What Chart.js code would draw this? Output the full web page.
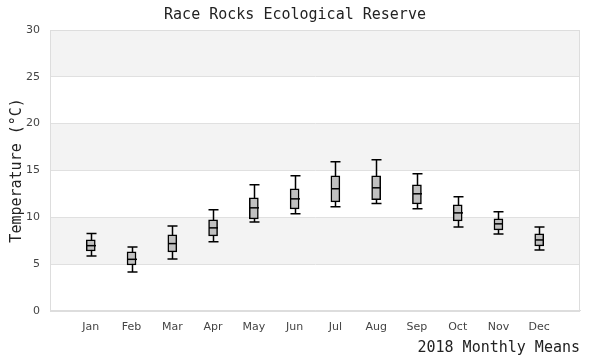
<!DOCTYPE html>
<html>
<head>
<meta charset="utf-8">
<script src="https://cdn.jsdelivr.net/npm/chart.js@4/dist/chart.umd.min.js"></script>
<style>
html,body{margin:0;padding:0;background:#fff;}
#wrap{width:600px;height:360px;}
</style>
</head>
<body>
<div id="wrap"><canvas id="c" width="600" height="360"></canvas></div>
<script>
const months = ["Jan","Feb","Mar","Apr","May","Jun","Jul","Aug","Sep","Oct","Nov","Dec"];
const whiskerLow  = [5.86, 4.14, 5.54, 7.39, 9.50, 10.36, 11.11, 11.46, 10.89, 8.96, 8.21, 6.50];
const q1          = [6.39, 4.89, 6.29, 8.00, 9.82, 10.89, 11.64, 11.86, 11.43, 9.61, 8.64, 6.93];
const medians     = [6.96, 5.50, 7.18, 8.86, 11.00, 11.96, 13.04, 13.14, 12.50, 10.46, 9.29, 7.57];
const q3          = [7.57, 6.29, 8.11, 9.71, 12.07, 13.04, 14.43, 14.43, 13.46, 11.32, 9.82, 8.21];
const whiskerHigh = [8.25, 6.82, 9.07, 10.79, 13.46, 14.43, 15.93, 16.14, 14.64, 12.18, 10.57, 8.96];
const yTicks = [0, 5, 10, 15, 20, 25, 30];

const monoFont = "'DejaVu Sans Mono', monospace";
const sansFont = "'DejaVu Sans', sans-serif";

const boxData = months.map((m, i) => ({ x: i + 1, y: [q1[i], q3[i]] }));

const bandsPlugin = {
  id: 'bands',
  beforeDraw(chart) {
    const { ctx, chartArea: a, scales: { y } } = chart;
    ctx.save();
    ctx.fillStyle = '#f3f3f3';
    for (let k = 0; k < yTicks.length - 1; k++) {
      if ((yTicks.length - 2 - k) % 2 === 0) {
        const top = y.getPixelForValue(yTicks[k + 1]);
        const bot = y.getPixelForValue(yTicks[k]);
        ctx.fillRect(a.left, top, a.right - a.left, bot - top);
      }
    }
    ctx.restore();
  },
  afterDraw(chart) {
    const { ctx, chartArea: a } = chart;
    ctx.save();
    ctx.strokeStyle = '#dddddd';
    ctx.lineWidth = 1;
    ctx.strokeRect(Math.round(a.left) + 0.5, Math.round(a.top) + 0.5, Math.round(a.right - a.left) - 1, Math.round(a.bottom - a.top));
    ctx.restore();
  }
};

const whiskerPlugin = {
  id: 'whiskers',
  beforeDatasetsDraw(chart) {
    const { ctx, scales: { x, y } } = chart;
    ctx.save();
    ctx.strokeStyle = '#000';
    ctx.lineWidth = 1.5;
    const half = 5;
    months.forEach((m, i) => {
      const px = Math.round(x.getPixelForValue(i + 1)) + 0.5;
      const lo = y.getPixelForValue(whiskerLow[i]);
      const hi = y.getPixelForValue(whiskerHigh[i]);
      ctx.beginPath();
      ctx.moveTo(px, lo); ctx.lineTo(px, hi);
      ctx.moveTo(px - half, lo); ctx.lineTo(px + half, lo);
      ctx.moveTo(px - half, hi); ctx.lineTo(px + half, hi);
      ctx.stroke();
    });
    ctx.restore();
  },
  afterDatasetsDraw(chart) {
    const { ctx, scales: { x, y } } = chart;
    ctx.save();
    ctx.strokeStyle = '#000';
    ctx.lineWidth = 1.5;
    months.forEach((m, i) => {
      const px = Math.round(x.getPixelForValue(i + 1)) + 0.5;
      const my = y.getPixelForValue(medians[i]);
      ctx.beginPath();
      ctx.moveTo(px - 4.5, my); ctx.lineTo(px + 4.5, my);
      ctx.stroke();
    });
    ctx.restore();
  }
};

new Chart(document.getElementById('c'), {
  type: 'bar',
  data: {
    datasets: [{
      label: 'Monthly means',
      data: boxData,
      backgroundColor: '#c0c0c0',
      borderColor: '#000',
      borderWidth: 1.5,
      borderSkipped: false,
      barThickness: 9
    }]
  },
  options: {
    responsive: false,
    animation: false,
    layout: { padding: { left: 10, right: 20, top: 0, bottom: 3 } },
    plugins: {
      legend: { display: false },
      tooltip: { enabled: false },
      title: {
        display: true,
        text: 'Race Rocks Ecological Reserve',
        color: '#222',
        font: { family: monoFont, size: 15, weight: 'normal' },
        padding: { top: 6, bottom: 6 }
      }
    },
    scales: {
      x: {
        type: 'linear',
        min: 0,
        max: 13,
        offset: false,
        grid: { display: false },
        border: { display: true, color: '#dddddd' },
        ticks: {
          stepSize: 1,
          autoSkip: false,
          maxRotation: 0,
          color: '#444',
          font: { family: sansFont, size: 11 },
          padding: 2,
          callback: (v) => (v >= 1 && v <= 12) ? months[v - 1] : ''
        },
        title: {
          display: true,
          text: '2018 Monthly Means',
          align: 'end',
          color: '#222',
          font: { family: monoFont, size: 15 },
          padding: { top: 3, bottom: 0 }
        }
      },
      y: {
        min: 0,
        max: 30,
        afterFit: (s) => { s.width = 40; },
        grid: { color: '#e0e0e0', drawTicks: false },
        border: { display: true, color: '#dddddd' },
        afterBuildTicks: (s) => { s.ticks = yTicks.map(v => ({ value: v })); },
        ticks: {
          color: '#444',
          font: { family: sansFont, size: 11 },
          padding: 10
        },
        title: {
          display: true,
          text: 'Temperature (°C)',
          color: '#222',
          font: { family: monoFont, size: 15, lineHeight: 1 },
          padding: { top: 0, bottom: 0 }
        }
      }
    }
  },
  plugins: [bandsPlugin, whiskerPlugin]
});
</script>
</body>
</html>
